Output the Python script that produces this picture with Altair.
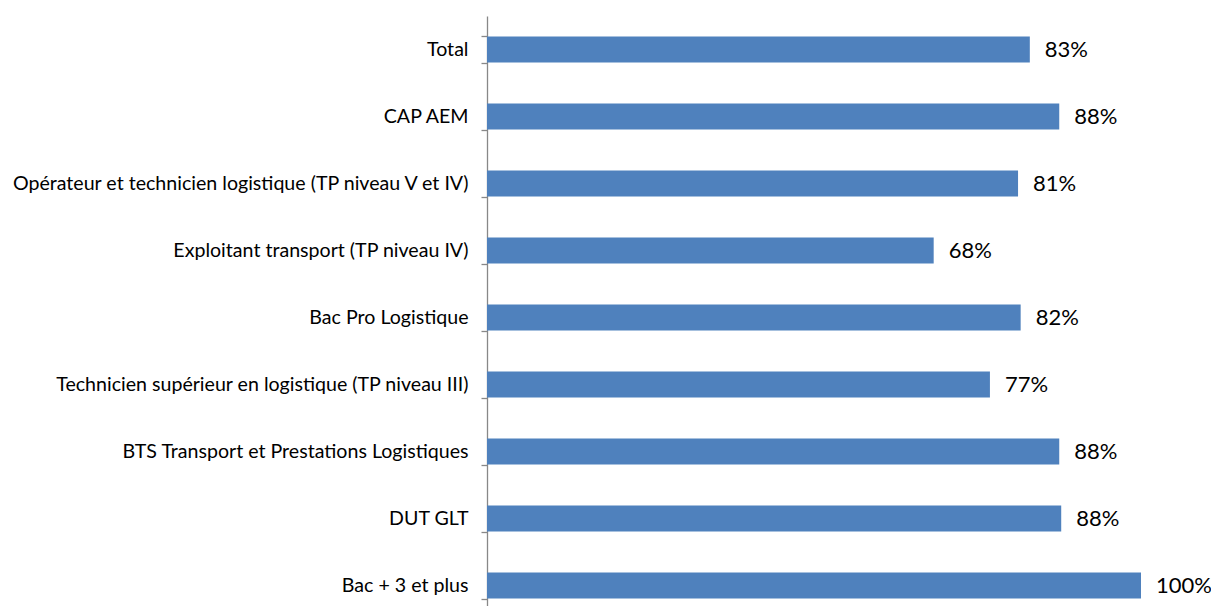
import altair as alt
import pandas as pd

categories = [
    "Total",
    "CAP AEM",
    "Opérateur et technicien logistique (TP niveau V et IV)",
    "Exploitant transport (TP niveau IV)",
    "Bac Pro Logistique",
    "Technicien supérieur en logistique (TP niveau III)",
    "BTS Transport et Prestations Logistiques",
    "DUT GLT",
    "Bac + 3 et plus",
]
values = [83.0, 87.5, 81.2, 68.3, 81.6, 76.9, 87.5, 87.8, 100.0]
labels = ["83%", "88%", "81%", "68%", "82%", "77%", "88%", "88%", "100%"]

df = pd.DataFrame({"cat": categories, "val": values, "lab": labels})

FONT = "Lato"

y = alt.Y("cat:N", sort=categories, title=None,
          scale=alt.Scale(range=[0, 603], paddingInner=0.61, paddingOuter=0.305),
          axis=alt.Axis(domainColor="#888888", tickColor="#888888", tickSize=6,
                        tickBand="extent", labelFontSize=19.6, labelFont=FONT,
                        labelColor="#000000", labelPadding=13, labelLimit=600,
                        domainWidth=1.3, tickWidth=1.3))
x = alt.X("val:Q", scale=alt.Scale(domain=[0, 100]), axis=None)

bars = alt.Chart(df).mark_bar(color="#4F81BD").encode(x=x, y=y)
text = alt.Chart(df).mark_text(align="left", dx=15, fontSize=22, font=FONT,
                               color="#000000").encode(x=x, y=y, text="lab:N")

chart = (bars + text).properties(
    width=654, height=590,
    background="white",
    autosize=alt.AutoSizeParams(type="none"),
    padding={"left": 479, "top": 8, "right": 70, "bottom": 0},
).configure_view(stroke=None, strokeWidth=0)

chart.save("out.html", embed_options={"renderer": "svg", "actions": False})
